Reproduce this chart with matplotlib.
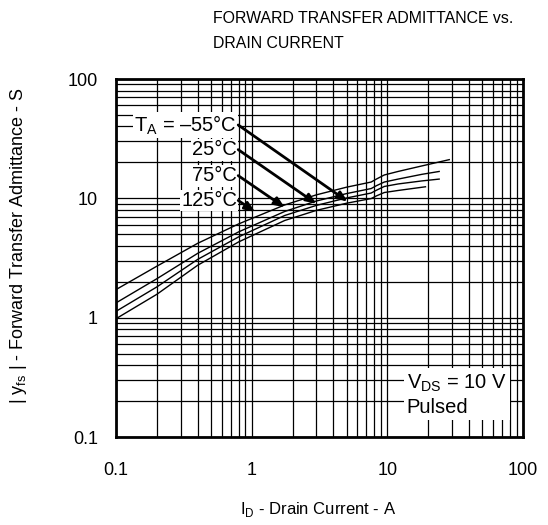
import numpy as np
import matplotlib
matplotlib.use("Agg")
import matplotlib.pyplot as plt

plt.rcParams["font.family"] = ["Liberation Sans", "DejaVu Sans"]
plt.rcParams["mathtext.fontset"] = "custom"
plt.rcParams["mathtext.rm"] = "Liberation Sans"

# curves (Id in A, |yfs| in S)
id_a = [0.1, 0.2, 0.4, 0.8, 1.75, 3, 5, 7.6, 8.3, 9.5, 12, 18, 28.6]
yfs_a = [1.72, 2.7, 4.2, 6.1, 8.8, 10.7, 12.4, 13.7, 14.5, 15.7, 16.8, 18.7, 21.1]

id_b = [0.1, 0.2, 0.4, 0.8, 1.75, 3, 5, 7.6, 8.3, 9.5, 12, 18, 24.1]
yfs_b = [1.33, 2.12, 3.46, 5.23, 7.76, 9.5, 10.96, 12.08, 12.76, 13.7, 14.5, 15.9, 16.8]

id_c = [0.1, 0.2, 0.4, 0.8, 1.75, 3, 5, 7.6, 8.3, 9.5, 12, 18, 24.1]
yfs_c = [1.13, 1.81, 3.08, 4.75, 7.18, 8.73, 10.07, 11.08, 11.69, 12.58, 13.2, 14.0, 14.5]

id_d = [0.1, 0.2, 0.4, 0.8, 1.75, 3, 5, 7.6, 8.3, 9.5, 12, 19.1]
yfs_d = [0.98, 1.57, 2.75, 4.31, 6.52, 7.93, 9.10, 9.96, 10.48, 11.19, 11.64, 12.5]

temp_labels = ["T$_\\mathregular{A}$ = \u201355\u00b0C", "25\u00b0C", "75\u00b0C", "125\u00b0C"]
label_pos = [(0.78, 41.2), (0.78, 25.6), (0.78, 15.5), (0.78, 9.6)]
arrow_tips = [(5.1, 9.4), (3.0, 9.0), (1.75, 8.4), (1.06, 7.7)]

fig = plt.figure(figsize=(5.48, 5.25), dpi=100)
ax = fig.add_axes([0.2117, 0.1676, 0.7427, 0.6819])

for x, y in [(id_a, yfs_a), (id_b, yfs_b), (id_c, yfs_c), (id_d, yfs_d)]:
    ax.plot(x, y, color="black", lw=1.0, zorder=3)

ax.set_xscale("log")
ax.set_yscale("log")
ax.set_xlim(0.1, 100)
ax.set_ylim(0.1, 100)
ax.grid(True, which="both", color="black", lw=0.9)
ax.tick_params(which="both", length=0, labelsize=13)
ax.tick_params(axis="x", pad=18)
ax.tick_params(axis="y", pad=13)
ax.set_xticks([0.1, 1, 10, 100])
ax.set_xticklabels(["0.1", "1", "10", "100"])
ax.set_yticks([0.1, 1, 10, 100])
ax.set_yticklabels(["0.1", "1", "10", "100"])
ax.minorticks_on()
ax.tick_params(which="minor", labelbottom=False, labelleft=False)
for s in ax.spines.values():
    s.set_linewidth(2)
    s.set_zorder(5)

# temperature labels with arrows
for lab, (tx, ty), (hx, hy) in zip(temp_labels, label_pos, arrow_tips):
    ax.text(tx, ty, lab, ha="right", va="center", fontsize=14.5, zorder=4,
            bbox=dict(facecolor="white", edgecolor="none", pad=1))
    ax.annotate("", xy=(hx, hy), xytext=(tx * 1.02, ty), zorder=4,
                arrowprops=dict(arrowstyle="-|>,head_length=0.6,head_width=0.25",
                                color="black", lw=2, shrinkA=0, shrinkB=0))

ax.text(13.9, 0.225, "V$_\\mathregular{DS}$ = 10 V\nPulsed", ha="left", va="center",
        fontsize=14.5, linespacing=1.3, zorder=4,
        bbox=dict(facecolor="white", edgecolor="none", pad=2))

ax.set_xlabel("I$_\\mathregular{D}$ - Drain Current - A", fontsize=12)
ax.set_ylabel("| y$_\\mathregular{fs}$ | - Forward Transfer Admittance - S", fontsize=13)
ax.xaxis.set_label_coords(0.496, -0.175)
ax.yaxis.set_label_coords(-0.215, 0.535)

fig.text(213 / 548, 1 - 11 / 525, "FORWARD TRANSFER ADMITTANCE vs.\nDRAIN CURRENT",
         ha="left", va="top", fontsize=11.4, linespacing=1.85)

fig.savefig("out.png", dpi=100)
